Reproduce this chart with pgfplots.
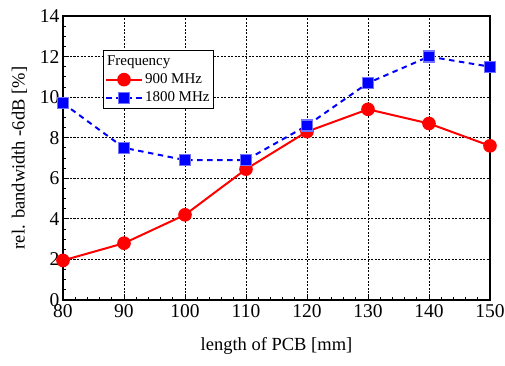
\documentclass[border=0pt]{standalone}
\usepackage{fontspec}
\setmainfont{Liberation Serif}
\usepackage{pgfplots}
\pgfplotsset{compat=1.18}
\begin{document}
\begin{tikzpicture}
\useasboundingbox (-63pt,-65pt) rectangle (442pt,300pt);
\begin{axis}[
  at={(0pt,0pt)}, anchor=south west,
  scale only axis, width=427pt, height=284pt,
  xmin=80, xmax=150, ymin=0, ymax=14,
  xtick={80,90,...,150}, ytick={0,2,...,14},
  minor x tick num=4, minor y tick num=3,
  tick align=inside, xtick pos=bottom, ytick pos=left,
  major tick length=6pt, minor tick length=3.5pt,
  grid=major, major grid style={black, line width=0.8pt, dash pattern=on 2pt off 1.5pt},
  axis line style={black, line width=1.2pt},
  every tick/.style={black, line width=0.8pt},
  /pgf/number format/assume math mode=true,
  tick label style={font=\fontsize{19.5}{21}\selectfont},
  label style={font=\fontsize{18.5}{21}\selectfont},
  xlabel={length of PCB [mm]},
  ylabel={rel. bandwidth -6dB [\%]},
  xlabel style={yshift=-13pt},
  ylabel style={yshift=6pt},
  xticklabel style={yshift=-1pt},
  clip=false,
  legend style={at={(rel axis cs:0.0937,0.880)}, anchor=north west,
    draw=black, line width=1pt, fill=white, font=\fontsize{15}{16}\selectfont,
    inner xsep=1.5pt, inner ysep=3.5pt, row sep=2.5pt,
    legend cell align=left},
  legend image code/.code={
    \draw[mark repeat=2,mark phase=2] plot coordinates {(0pt,0pt) (18pt,0pt) (36pt,0pt)};},
]
\addlegendimage{empty legend}
\addlegendentry{\hspace{-38pt}Frequency}
\addplot[red, line width=2pt, mark=*, mark size=5.8pt, mark options={solid, fill=red, draw=red}]
  coordinates {(80,1.95) (90,2.8) (100,4.2) (110,6.45) (120,8.3) (130,9.4) (140,8.7) (150,7.6)};
\addlegendentry{900 MHz}
\addplot[blue, line width=2pt, dash pattern=on 5.5pt off 4.5pt, mark=square*, mark size=5.5pt,
  mark options={solid, fill=blue, draw=blue!55, line width=1.2pt}]
  coordinates {(80,9.7) (90,7.5) (100,6.9) (110,6.9) (120,8.6) (130,10.7) (140,12.0) (150,11.5)};
\addlegendentry{1800 MHz}
\end{axis}
\end{tikzpicture}
\end{document}
